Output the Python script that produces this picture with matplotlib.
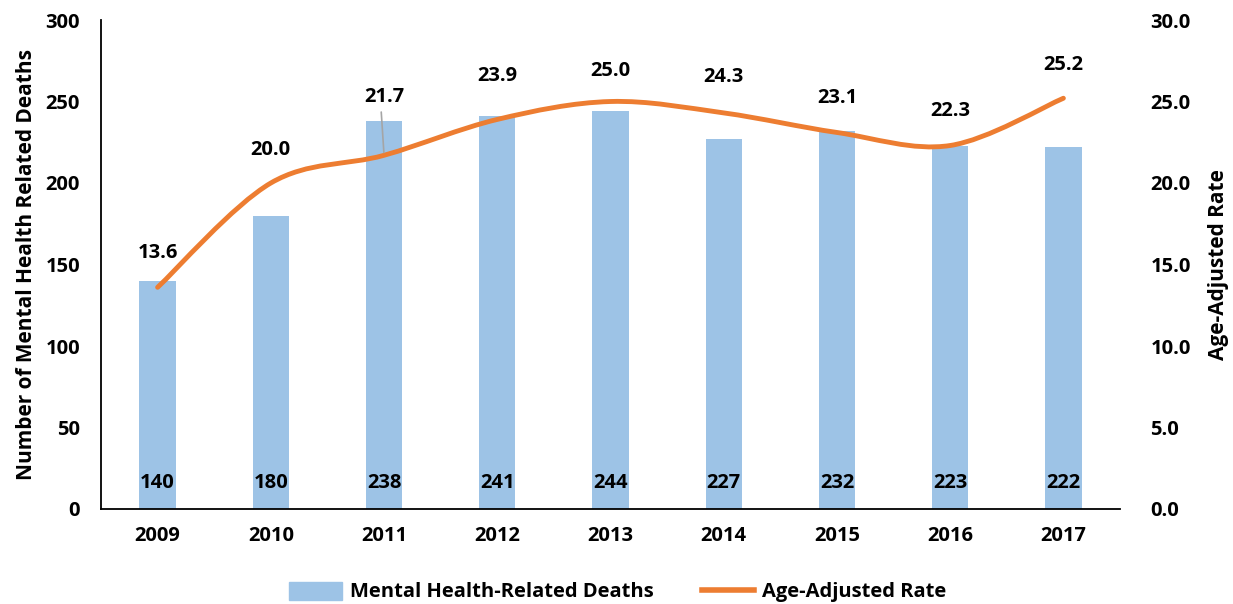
import matplotlib.pyplot as plt
import numpy as np
from matplotlib.path import Path
from matplotlib.patches import PathPatch
from matplotlib.lines import Line2D
from matplotlib.patches import Patch

plt.rcParams['font.family'] = ['Open Sans', 'DejaVu Sans']
plt.rcParams['font.weight'] = 'bold'
plt.rcParams['axes.labelweight'] = 'bold'

years = ['2009', '2010', '2011', '2012', '2013', '2014', '2015', '2016', '2017']
deaths = [140, 180, 238, 241, 244, 227, 232, 223, 222]
rates = [13.6, 20.0, 21.7, 23.9, 25.0, 24.3, 23.1, 22.3, 25.2]

bar_color = '#9DC3E6'
line_color = '#ED7D31'
fs = 14.5

fig = plt.figure(figsize=(12.33, 6.04), dpi=100)
ax = fig.add_axes([101 / 1233, 1 - 509 / 604, 1019 / 1233, 489 / 604])
ax2 = ax.twinx()

x = np.arange(len(years))
ax.bar(x, deaths, width=0.32, color=bar_color, zorder=1)
ax.set_xlim(-0.5, len(years) - 0.5)
ax.set_ylim(0, 300)
ax.set_yticks(range(0, 301, 50))
ax.set_xticks(x)
ax.set_xticklabels(years)
ax.tick_params(axis='both', length=0, labelsize=fs)
ax.tick_params(axis='x', pad=12)
ax.tick_params(axis='y', pad=15)
ax.set_ylabel('Number of Mental Health Related Deaths', fontsize=15, labelpad=6)
for s in ['top', 'right']:
    ax.spines[s].set_visible(False)
ax.spines['left'].set_linewidth(1.3)
ax.spines['bottom'].set_linewidth(1.3)

for xi, d in zip(x, deaths):
    ax.text(xi, 16, str(d), ha='center', va='center', fontsize=fs)

# smoothed line (Catmull-Rom as cubic Bezier, like Excel's smooth line)
pts = np.column_stack([x, rates]).astype(float)
verts = [tuple(pts[0])]
codes = [Path.MOVETO]
for i in range(len(pts) - 1):
    p0 = pts[i - 1] if i > 0 else pts[i]
    p1 = pts[i]
    p2 = pts[i + 1]
    p3 = pts[i + 2] if i + 2 < len(pts) else pts[i + 1]
    c1 = p1 + (p2 - p0) / 6
    c2 = p2 - (p3 - p1) / 6
    verts += [tuple(c1), tuple(c2), tuple(p2)]
    codes += [Path.CURVE4] * 3
ax2.add_patch(PathPatch(Path(verts, codes), fill=False, edgecolor=line_color,
                        lw=3.5, capstyle='round', zorder=3))
ax2.set_ylim(0, 30)
ax2.set_yticks(np.arange(0, 31, 5))
ax2.set_yticklabels([f'{v:.1f}' for v in np.arange(0, 31, 5)])
ax2.tick_params(axis='y', length=0, labelsize=fs, pad=22)
ax2.set_ylabel('Age-Adjusted Rate', fontsize=15, labelpad=12)
for s in ['top', 'right', 'left', 'bottom']:
    ax2.spines[s].set_visible(False)

offsets = [34, 33, 58, 43, 31, 36, 34, 35, 33]
for xi, r, off in zip(x, rates, offsets):
    ax2.annotate(f'{r:.1f}', (xi, r), xytext=(0, off), textcoords='offset pixels',
                 ha='center', va='center', fontsize=fs)
# leader line for 2011 label
ax2.annotate('', (2, rates[2]), xytext=(-3, 46), textcoords='offset pixels',
             arrowprops=dict(arrowstyle='-', color='#A5A5A5', lw=1.2))

handles = [Patch(color=bar_color), Line2D([], [], color=line_color, lw=4)]
fig.legend(handles, ['Mental Health-Related Deaths', 'Age-Adjusted Rate'],
           loc='center', bbox_to_anchor=(618 / 1233, 1 - 592 / 604), ncol=2,
           frameon=False, fontsize=fs, handlelength=2.6, handleheight=1.0,
           handletextpad=0.4, columnspacing=2.4)

fig.savefig('out.png', dpi=100)
